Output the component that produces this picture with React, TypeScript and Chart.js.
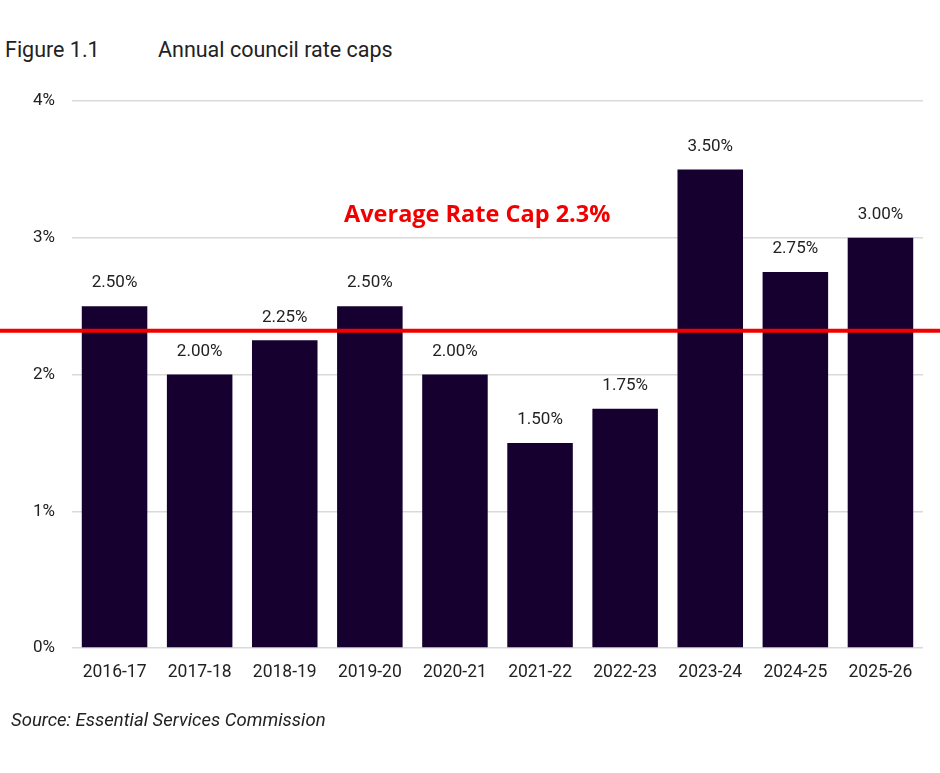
import React, { useEffect, useRef } from "react";
import { Chart, registerables } from "chart.js";

Chart.register(...registerables);

const categories = ["2016-17", "2017-18", "2018-19", "2019-20", "2020-21", "2021-22", "2022-23", "2023-24", "2024-25", "2025-26"];
const rateCaps = [2.5, 2.0, 2.25, 2.5, 2.0, 1.5, 1.75, 3.5, 2.75, 3.0];
const yTicks = [0, 1, 2, 3, 4];
const averageValue = 2.32;
const averageLabel = "Average Rate Cap 2.3%";
const figureNumber = "Figure 1.1";
const figureTitle = "Annual council rate caps";
const sourceText = "Source: Essential Services Commission";

const FONT = "Roboto, 'Noto Sans', sans-serif";
const TEXT = "#222222";

export default function App() {
  const ref = useRef<HTMLCanvasElement | null>(null);

  useEffect(() => {
    if (!ref.current) return;
    const overlay = {
      id: "overlay",
      afterDatasetsDraw(chart: any) {
        const ctx = chart.ctx;
        const meta = chart.getDatasetMeta(0);
        ctx.save();
        ctx.font = `17px ${FONT}`;
        ctx.fillStyle = TEXT;
        ctx.textAlign = "center";
        ctx.textBaseline = "middle";
        meta.data.forEach((bar: any, i: number) => {
          ctx.fillText(rateCaps[i].toFixed(2) + "%", bar.x, bar.y - 23);
        });
        const y = chart.scales.y.getPixelForValue(averageValue);
        ctx.strokeStyle = "#f20000";
        ctx.lineWidth = 4;
        ctx.beginPath();
        ctx.moveTo(0, y);
        ctx.lineTo(chart.width, y);
        ctx.stroke();
        ctx.font = `bold 23.5px 'Open Sans', ${FONT}`;
        ctx.fillStyle = "#f20000";
        ctx.textAlign = "left";
        ctx.fillText(averageLabel, 344, 215);
        ctx.restore();
      },
    };
    const chart = new Chart(ref.current, {
      type: "bar",
      data: {
        labels: categories,
        datasets: [
          {
            data: rateCaps,
            backgroundColor: "#150030",
            borderWidth: 0,
            barPercentage: 0.77,
            categoryPercentage: 1,
          },
        ],
      },
      options: {
        animation: false,
        responsive: false,
        layout: { padding: { left: 0, right: 17, top: 101, bottom: 75 } },
        plugins: { legend: { display: false }, tooltip: { enabled: false } },
        scales: {
          x: {
            grid: { display: false },
            border: { display: false },
            ticks: { color: TEXT, font: { family: FONT, size: 17.5 }, padding: 6, maxRotation: 0 },
            afterFit: (s: any) => { s.height = 50; },
          },
          y: {
            min: 0,
            max: 4,
            afterBuildTicks: (s: any) => { s.ticks = yTicks.map((v) => ({ value: v })); },
            grid: { color: "#d9d9d9", lineWidth: 1.5, drawTicks: false },
            border: { display: false },
            ticks: {
              color: TEXT,
              font: { family: FONT, size: 17 },
              padding: 17,
              callback: (v: any) => v + "%",
            },
            afterFit: (s: any) => { s.width = 72; },
          },
        },
      },
      plugins: [overlay],
    });
    return () => chart.destroy();
  }, []);

  return (
    <div style={{ position: "absolute", left: 0, top: 0, width: 940, height: 773, background: "#fff", fontFamily: FONT, color: TEXT }}>
      <div style={{ position: "absolute", left: 5, top: 37, fontSize: 21.5, whiteSpace: "nowrap" }}>{figureNumber}</div>
      <div style={{ position: "absolute", left: 158, top: 37, fontSize: 21.5, whiteSpace: "nowrap" }}>{figureTitle}</div>
      <canvas ref={ref} width={940} height={773} style={{ position: "absolute", left: 0, top: 0 }} />
      <div style={{ position: "absolute", left: 11, top: 709, fontSize: 18.5, fontStyle: "italic", whiteSpace: "nowrap" }}>{sourceText}</div>
    </div>
  );
}
